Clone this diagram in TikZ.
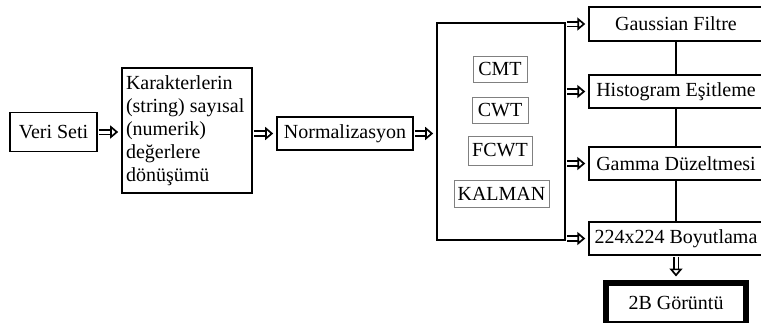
\documentclass[tikz,border=0pt]{standalone}
\usepackage{fontspec}
\setmainfont{Liberation Serif}
\usetikzlibrary{arrows.meta}

\begin{document}
\begin{tikzpicture}[x=1pt, y=-1pt,
    kutu/.style={draw, line width=1.6pt, inner sep=0pt, font=\fontsize{20}{23}\selectfont},
    ic/.style={draw=gray, line width=0.8pt, inner sep=0pt, font=\fontsize{20}{23}\selectfont},
    ok/.style={double, double distance=3pt, line width=1.7pt,
      -{Triangle[open, length=8pt, width=13pt, line width=1.7pt]}, shorten >=3pt, shorten <=1pt}]
  \useasboundingbox (0,0) rectangle (761,322);

  % sol taraf
  \node[kutu, minimum width=87pt, minimum height=39pt] (veri) at (53.5,132) {Veri Seti};
  \node[kutu, minimum width=130pt, minimum height=125pt, text width=122pt, inner xsep=4pt, align=flush left] (kar) at (187,130.5)
    {Karakterlerin\\(string) sayısal\\(numerik)\\değerlere\\dönüşümü};
  \node[kutu, minimum width=136pt, minimum height=33pt] (norm) at (345,133.5) {Normalizasyon};

  % donusumler
  \node[kutu, minimum width=128pt, minimum height=217pt] (islem) at (501,131.5) {};
  \node[ic, minimum width=54pt, minimum height=26pt] (cmt) at (500,69) {CMT};
  \node[ic, minimum width=56pt, minimum height=26pt] (cwt) at (500,110) {CWT};
  \node[ic, minimum width=64pt, minimum height=29pt] (fcwt) at (500,150.5) {FCWT};
  \node[ic, minimum width=95pt, minimum height=27pt] (kalman) at (501.5,193.5) {KALMAN};

  % sag taraf
  \node[kutu, line width=1.4pt, minimum width=174pt, minimum height=34pt] (gauss) at (676,24) {Gaussian Filtre};
  \node[kutu, line width=1.4pt, minimum width=174pt, minimum height=33pt] (hist) at (676,91.5) {Histogram Eşitleme};
  \node[kutu, line width=1.4pt, minimum width=174pt, minimum height=33pt] (gamma) at (676,163.5) {Gamma Düzeltmesi};
  \node[kutu, line width=1.4pt, minimum width=174pt, minimum height=33pt] (boyut) at (676,238.5) {224x224 Boyutlama};
  \node[kutu, line width=6pt, minimum width=140pt, minimum height=41pt] (sonuc) at (676,303) {2B Görüntü};

  \draw[ok] (veri.east) -- (veri.east -| kar.west);
  \draw[ok] (kar.east |- norm) -- (norm);
  \draw[ok] (norm) -- (norm -| islem.west);

  \draw[ok] (islem.east |- gauss) -- (gauss);
  \draw[ok] (islem.east |- hist) -- (hist);
  \draw[ok] (islem.east |- gamma) -- (gamma);
  \draw[ok] (islem.east |- boyut) -- (boyut);

  \draw[line width=1.4pt] (gauss) -- (hist);
  \draw[line width=1.4pt] (hist) -- (gamma);
  \draw[line width=1.4pt] (gamma) -- (boyut);
  \draw[ok] (boyut) -- (sonuc);
\end{tikzpicture}
\end{document}
